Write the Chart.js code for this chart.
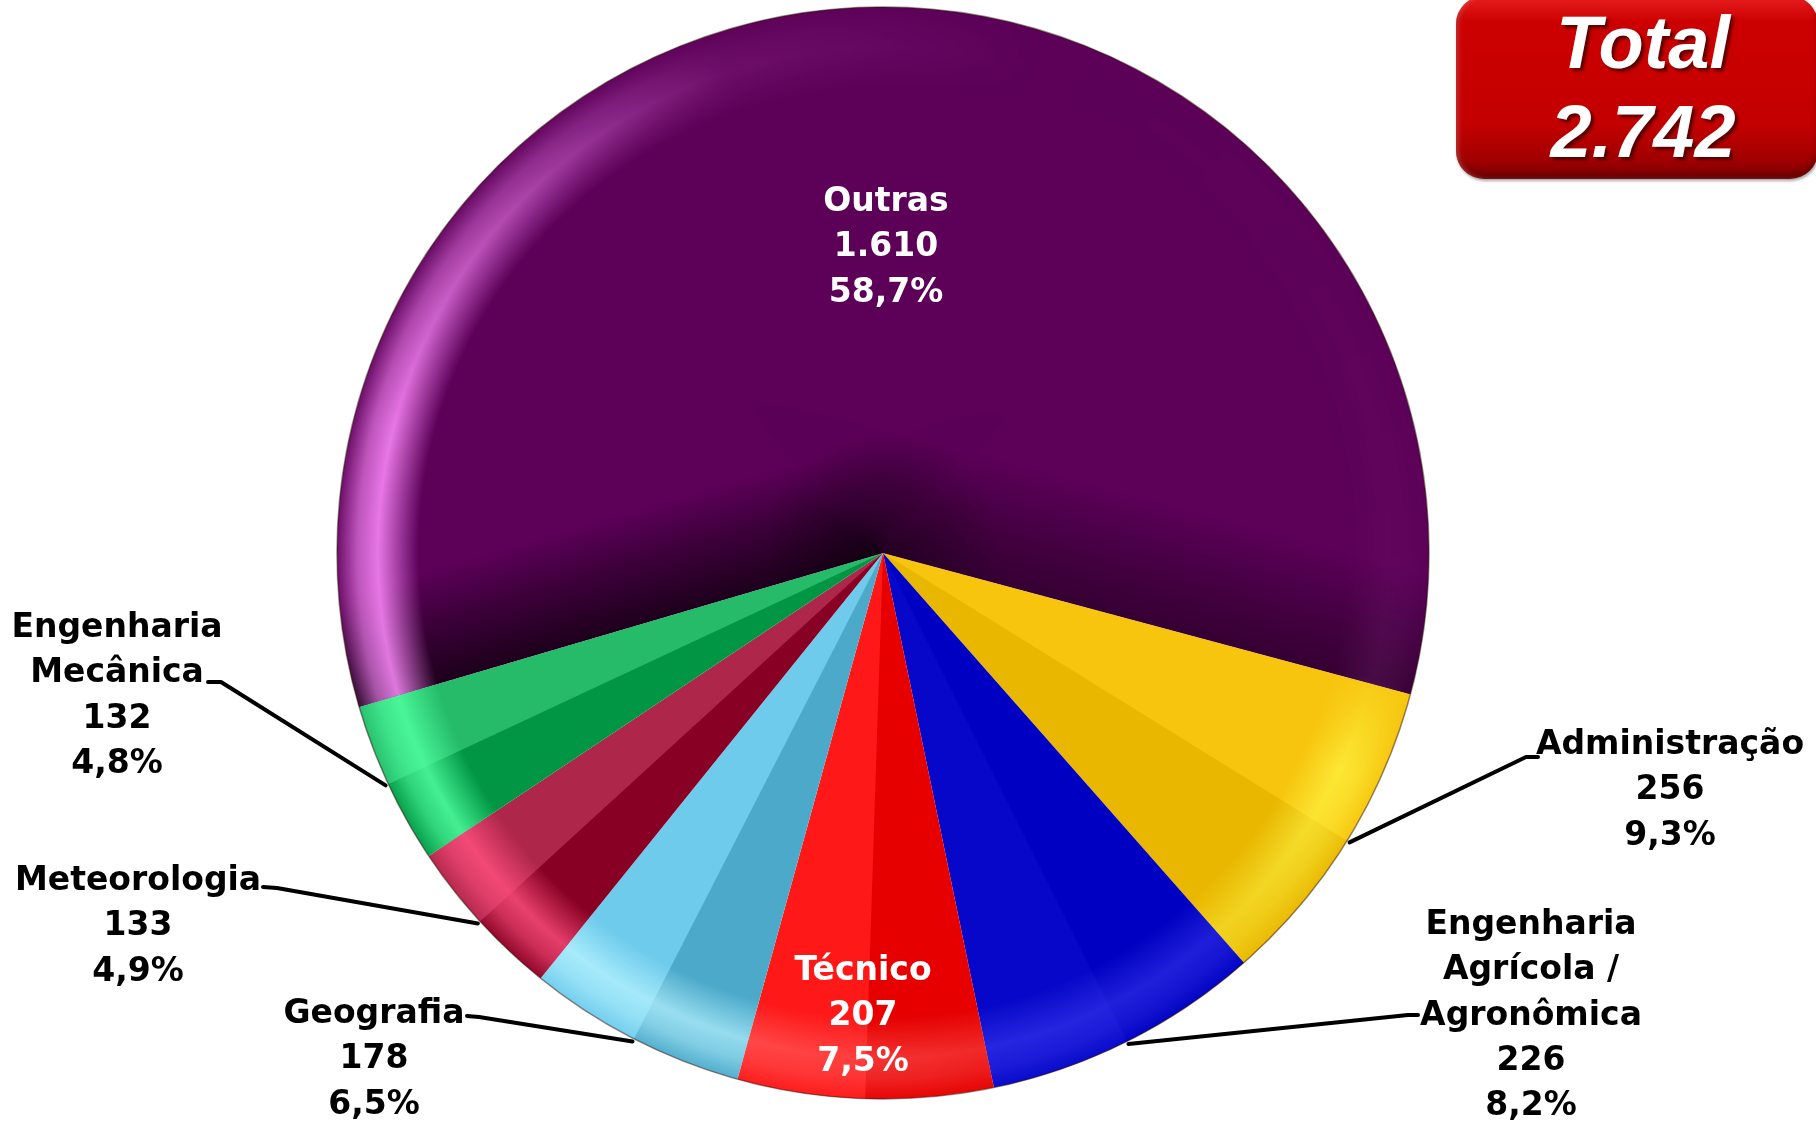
<!DOCTYPE html>
<html>
<head>
<meta charset="utf-8">
<script src="https://cdn.jsdelivr.net/npm/chart.js@4.4.1/dist/chart.umd.min.js"></script>
<style>
html,body{margin:0;padding:0;background:#fff;}
#wrap{position:relative;width:1816px;height:1124px;overflow:hidden;background:#fff;}
#c{position:absolute;left:0;top:0;}
#total{position:absolute;left:1456px;top:-4px;width:362px;height:183px;border-radius:28px;
  background:linear-gradient(to bottom,#e82020 0%,#cc0000 14%,#c40000 70%,#a00000 90%,#7a0000 100%);
  box-shadow:inset 3px 0 4px rgba(255,120,120,0.35), inset 0 -4px 6px rgba(60,0,0,0.5), 1px 2px 3px rgba(0,0,0,0.35);
  color:#fff;font-family:"Liberation Sans",Arial,sans-serif;font-weight:bold;font-style:italic;font-size:74px;
  text-align:center;}
#total div{position:absolute;left:6px;width:100%;height:89px;line-height:89px;text-shadow:3px 3px 3px rgba(60,0,0,0.75);}
</style>
</head>
<body>
<div id="wrap">
<canvas id="c" width="1816" height="1124"></canvas>
<div id="total"><div id="t1" style="top:2px"></div><div id="t2" style="top:91px"></div></div>
</div>
<script>
// ---- data ----
const categories = ['Administração', 'Engenharia\nAgrícola /\nAgronômica', 'Técnico', 'Geografia', 'Meteorologia', 'Engenharia\nMecânica', 'Outras'];
const values = [256, 226, 207, 178, 133, 132, 1610];
const totalTitle = 'Total';

// ---- styles / layout ----
const colors = ['#f7c200', '#0000c8', '#fe0000', '#58c3ea', '#a0002a', '#00b050', '#5c0058'];
const rimColors = ['#ffff50', '#5050ff', '#ff6060', '#b8f4ff', '#ff5080', '#50ffa0', '#ff8cff'];
const labelLayout = [
  {cx:1670, y0:745.5, color:'#000', edge:[1538,757], elbow:[1526,757]},
  {cx:1531, y0:925.5, color:'#000', edge:[1418,1015], elbow:[1408,1015]},
  {cx:863,  y0:971.5, color:'#fff'},
  {cx:374,  y0:1014.5, color:'#000', edge:[467,1016], elbow:[479,1017]},
  {cx:138,  y0:881.5, color:'#000', edge:[263,887], elbow:[277,888]},
  {cx:117,  y0:628.5, color:'#000', edge:[208,682], elbow:[221,682]},
  {cx:886,  y0:202.5, color:'#fff'}
];
const lineStep = 45.3;

const total = values.reduce((a,b)=>a+b,0);
function fmtInt(n){ return String(n).replace(/\B(?=(\d{3})+(?!\d))/g,'.'); }
function fmtPct(v){ return (v/total*100).toFixed(1).replace('.',',') + '%'; }
document.getElementById('t1').textContent = totalTitle;
document.getElementById('t2').textContent = fmtInt(total);

function slicePath(ctx, p, extra){
  ctx.beginPath();
  ctx.moveTo(p.x, p.y);
  ctx.arc(p.x, p.y, p.outerRadius + (extra||0), p.startAngle, p.endAngle);
  ctx.closePath();
}

const bevelPlugin = {
  id: 'bevel',
  afterDatasetsDraw(chart){
    const ctx = chart.ctx;
    const meta = chart.getDatasetMeta(0);
    const W = chart.width, H = chart.height;
    const props = meta.data.map(a => a.getProps(['x','y','startAngle','endAngle','outerRadius'], true));
    const L = {x:-0.6, y:-0.8};
    props.forEach((p, i) => {
      const span = p.endAngle - p.startAngle;
      if (span < Math.PI/2) {
        ctx.save();
        slicePath(ctx, p); ctx.clip();
        const mid = (p.startAngle + p.endAngle)/2;
        [[p.startAngle, mid, -1],[mid, p.endAngle, 1]].forEach(([a0,a1,side]) => {
          const na = mid + side*Math.PI/2;
          const d = Math.cos(na)*L.x + Math.sin(na)*L.y;
          ctx.beginPath(); ctx.moveTo(p.x,p.y); ctx.arc(p.x,p.y,p.outerRadius+4,a0,a1); ctx.closePath();
          ctx.fillStyle = d > 0 ? `rgba(255,255,255,${0.15*d})` : `rgba(0,0,0,${-0.15*d})`;
          ctx.fill();
        });
        ctx.restore();
      } else {
        // soft bevel bands along both radial edges
        const off = document.createElement('canvas'); off.width = W; off.height = H;
        const o = off.getContext('2d');
        [[p.startAngle, 1, 110, 0.68],[p.endAngle, -1, 120, 0.42]].forEach(([a, s, w, al]) => {
          const b = document.createElement('canvas'); b.width = W; b.height = H;
          const bc = b.getContext('2d');
          const nx = -Math.sin(a)*s, ny = Math.cos(a)*s;
          const g = bc.createLinearGradient(p.x, p.y, p.x + nx*w, p.y + ny*w);
          g.addColorStop(0, `rgba(0,0,0,${al})`);
          g.addColorStop(0.5, `rgba(0,0,0,${al*0.55})`);
          g.addColorStop(1, 'rgba(0,0,0,0)');
          bc.fillStyle = g; bc.fillRect(0,0,W,H);
          bc.globalCompositeOperation = 'destination-in';
          const cm = bc.createConicGradient(a, p.x, p.y);
          if (s === 1) {
            cm.addColorStop(0, 'rgba(0,0,0,1)');
            cm.addColorStop(50/360, 'rgba(0,0,0,1)');
            cm.addColorStop(150/360, 'rgba(0,0,0,0)');
            cm.addColorStop(1, 'rgba(0,0,0,0)');
          } else {
            cm.addColorStop(0, 'rgba(0,0,0,0)');
            cm.addColorStop(210/360, 'rgba(0,0,0,0)');
            cm.addColorStop(310/360, 'rgba(0,0,0,1)');
            cm.addColorStop(1, 'rgba(0,0,0,1)');
          }
          bc.fillStyle = cm; bc.fillRect(0,0,W,H);
          o.drawImage(b, 0, 0);
        });
        const cgd = o.createRadialGradient(p.x,p.y,0,p.x,p.y,120);
        cgd.addColorStop(0,'rgba(0,0,0,0.35)');
        cgd.addColorStop(1,'rgba(0,0,0,0)');
        o.fillStyle = cgd;
        o.fillRect(p.x-130,p.y-130,260,260);
        ctx.save();
        slicePath(ctx, p); ctx.clip();
        ctx.drawImage(off, 0, 0);
        ctx.restore();
      }
    });
    // rim highlight mask
    const p0 = props[0];
    const cx = p0.x, cy = p0.y, r = p0.outerRadius;
    const mask = document.createElement('canvas'); mask.width = W; mask.height = H;
    const m = mask.getContext('2d');
    const rg = m.createRadialGradient(cx,cy,0.85*r,cx,cy,r);
    rg.addColorStop(0,'rgba(255,255,255,0)');
    rg.addColorStop(0.5,'rgba(255,255,255,0.85)');
    rg.addColorStop(0.75,'rgba(255,255,255,0.6)');
    rg.addColorStop(1,'rgba(255,255,255,0.1)');
    m.fillStyle = rg; m.beginPath(); m.arc(cx,cy,r,0,Math.PI*2); m.fill();
    m.globalCompositeOperation = 'destination-in';
    const cg = m.createConicGradient(0, cx, cy);
    cg.addColorStop(0, 'rgba(0,0,0,0.03)');
    cg.addColorStop(0.04, 'rgba(0,0,0,0.1)');
    cg.addColorStop(0.07, 'rgba(0,0,0,0.7)');
    cg.addColorStop(0.13, 'rgba(0,0,0,0.45)');
    cg.addColorStop(0.22, 'rgba(0,0,0,0.5)');
    cg.addColorStop(0.3, 'rgba(0,0,0,0.8)');
    cg.addColorStop(0.4, 'rgba(0,0,0,1)');
    cg.addColorStop(0.54, 'rgba(0,0,0,1)');
    cg.addColorStop(0.62, 'rgba(0,0,0,0.6)');
    cg.addColorStop(0.7, 'rgba(0,0,0,0.12)');
    cg.addColorStop(0.8, 'rgba(0,0,0,0)');
    cg.addColorStop(1, 'rgba(0,0,0,0.03)');
    m.fillStyle = cg; m.fillRect(0,0,W,H);
    props.forEach((p, i) => {
      const off = document.createElement('canvas'); off.width = W; off.height = H;
      const o = off.getContext('2d');
      slicePath(o, p); o.fillStyle = rimColors[i]; o.fill();
      o.globalCompositeOperation = 'destination-in';
      o.drawImage(mask, 0, 0);
      ctx.drawImage(off, 0, 0);
    });
    ctx.save();
    ctx.beginPath(); ctx.arc(cx,cy,r,0,Math.PI*2);
    ctx.strokeStyle = 'rgba(50,20,10,0.5)'; ctx.lineWidth = 1.5; ctx.stroke();
    ctx.restore();
  }
};

const labelPlugin = {
  id: 'sliceLabels',
  afterDraw(chart){
    const ctx = chart.ctx;
    const meta = chart.getDatasetMeta(0);
    ctx.save();
    meta.data.forEach((arc, i) => {
      const p = arc.getProps(['x','y','startAngle','endAngle','outerRadius'], true);
      const lay = labelLayout[i];
      if (lay.edge) {
        const mid = (p.startAngle + p.endAngle)/2;
        const ax = p.x + Math.cos(mid)*(p.outerRadius+3);
        const ay = p.y + Math.sin(mid)*(p.outerRadius+3);
        ctx.beginPath();
        ctx.moveTo(lay.edge[0], lay.edge[1]);
        ctx.lineTo(lay.elbow[0], lay.elbow[1]);
        ctx.lineTo(ax, ay);
        ctx.strokeStyle = '#000'; ctx.lineWidth = 4; ctx.lineJoin = 'round'; ctx.lineCap = 'round';
        ctx.stroke();
      }
      const lines = chart.data.labels[i].split('\n').concat([fmtInt(values[i]), fmtPct(values[i])]);
      ctx.font = 'bold 33px "DejaVu Sans", Verdana, sans-serif';
      ctx.textAlign = 'center';
      ctx.textBaseline = 'middle';
      ctx.fillStyle = lay.color;
      lines.forEach((t, k) => ctx.fillText(t, lay.cx, lay.y0 + k*lineStep));
    });
    ctx.restore();
  }
};

new Chart(document.getElementById('c'), {
  type: 'pie',
  data: {
    labels: categories,
    datasets: [{ data: values, backgroundColor: colors, borderWidth: 0 }]
  },
  options: {
    responsive: false,
    animation: false,
    events: [],
    rotation: 105,
    layout: { padding: { left: 337, right: 387, top: 7, bottom: 25 } },
    plugins: { legend: { display: false }, tooltip: { enabled: false } }
  },
  plugins: [bevelPlugin, labelPlugin]
});
</script>
</body>
</html>
